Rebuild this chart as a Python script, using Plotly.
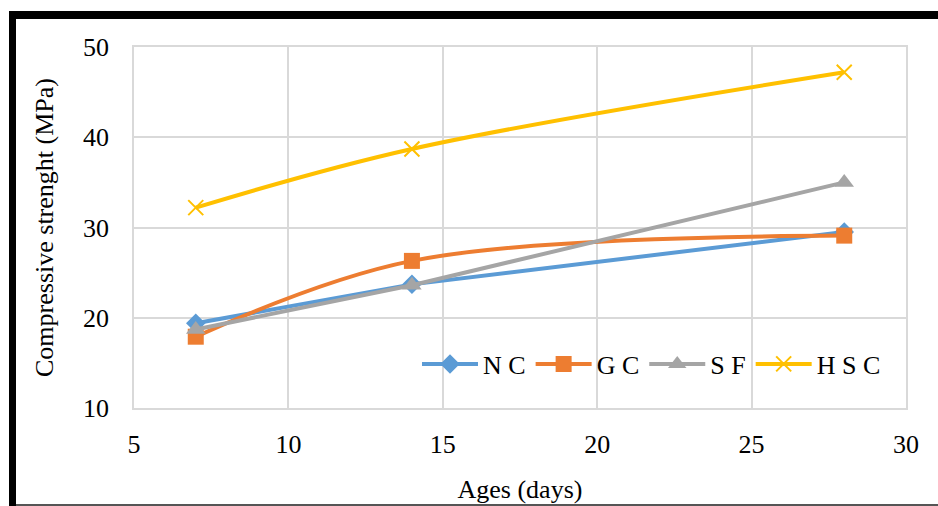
import plotly.graph_objects as go

ages = [7, 14, 28]
nc = [19.4, 23.7, 29.5]
gc = [17.9, 26.3, 29.1]
sf = [18.7, 23.6, 35.0]
hsc = [32.2, 38.7, 47.2]

names = ["N C", "G C", "S F", "H S C"]
colors = ["#5B9BD5", "#ED7D31", "#A5A5A5", "#FFC000"]

FONT = "Liberation Serif, Times New Roman, serif"

fig = go.Figure()
fig.add_trace(go.Scatter(x=ages, y=nc, name=names[0], mode="lines+markers",
                         line=dict(color=colors[0], width=4),
                         marker=dict(symbol="diamond", size=15, color=colors[0])))
fig.add_trace(go.Scatter(x=ages, y=gc, name=names[1], mode="lines+markers",
                         line=dict(color=colors[1], width=4, shape="spline", smoothing=1),
                         marker=dict(symbol="square", size=16, color=colors[1])))
fig.add_trace(go.Scatter(x=ages, y=sf, name=names[2], mode="lines+markers",
                         line=dict(color=colors[2], width=4),
                         marker=dict(symbol="triangle-up", size=17, color=colors[2])))
fig.add_trace(go.Scatter(x=ages, y=hsc, name=names[3], mode="lines+markers",
                         line=dict(color=colors[3], width=4, shape="spline", smoothing=1),
                         marker=dict(symbol="x-thin", size=15, color=colors[3],
                                     line=dict(color=colors[3], width=2))))

L, R, T, B = 134, 32, 47, 98
W, H = 938, 506
pw, ph = W - L - R, H - T - B

def px(x):
    return (x - L) / pw

def py(y):
    return (H - B - y) / ph

fig.update_layout(
    width=W, height=H,
    margin=dict(l=L, r=R, t=T, b=B),
    paper_bgcolor="white", plot_bgcolor="white",
    font=dict(family=FONT, size=26, color="black"),
    legend=dict(orientation="h", x=px(886), xanchor="right", y=py(364), yanchor="middle",
                bgcolor="rgba(0,0,0,0)", font=dict(size=26), itemwidth=56,
                tracegroupgap=0),
    xaxis=dict(range=[5, 30], dtick=5, showgrid=True, gridcolor="#D9D9D9", gridwidth=1.5,
               showline=True, linecolor="#D9D9D9", linewidth=1.5, mirror=True,
               zeroline=False, ticks="outside", ticklen=12, tickcolor="rgba(0,0,0,0)",
               automargin=False,
               title=dict(text="Ages (days)", standoff=22, font=dict(size=26))),
    yaxis=dict(range=[10, 50], dtick=10, showgrid=True, gridcolor="#D9D9D9", gridwidth=1.5,
               showline=True, linecolor="#D9D9D9", linewidth=1.5, mirror=True,
               zeroline=False, ticks="outside", ticklen=18, tickcolor="rgba(0,0,0,0)",
               automargin=False,
               title=dict(text="Compressive strenght (MPa)", standoff=22, font=dict(size=26))),
    shapes=[
        dict(type="rect", xref="paper", yref="paper", x0=px(9), x1=px(938), y0=py(19), y1=py(11),
             fillcolor="black", line=dict(width=0), layer="above"),
        dict(type="rect", xref="paper", yref="paper", x0=px(9), x1=px(16), y0=py(506), y1=py(11),
             fillcolor="black", line=dict(width=0), layer="above"),
        dict(type="line", xref="paper", yref="paper", x0=px(16), x1=px(938), y0=py(505), y1=py(505),
             line=dict(color="#555555", width=2), layer="above"),
    ],
)

fig.write_html("out.html")
